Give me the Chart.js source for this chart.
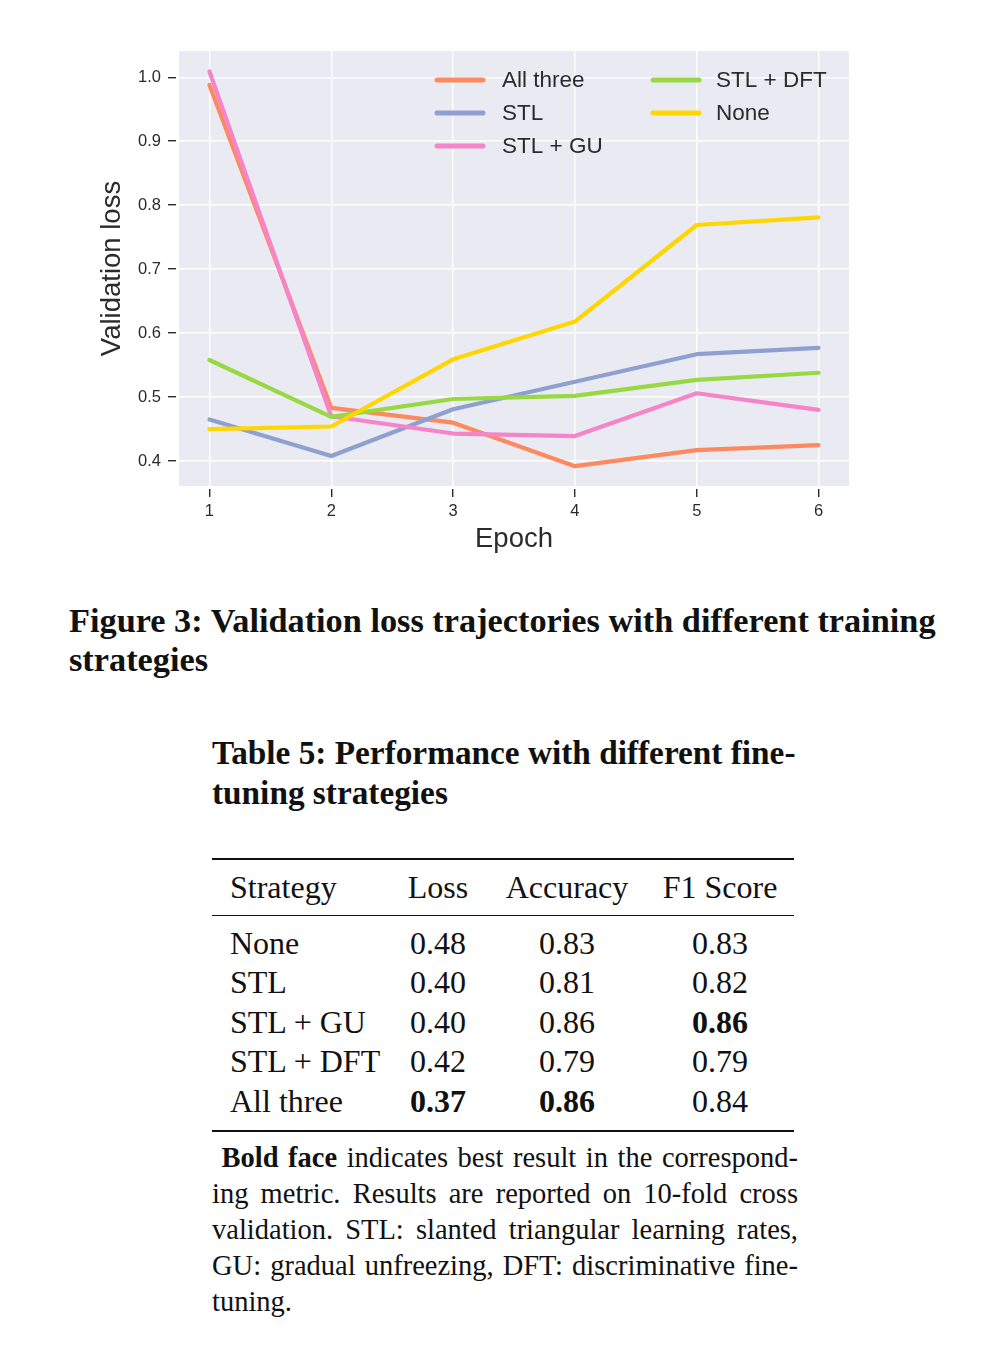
<!DOCTYPE html>
<html>
<head>
<meta charset="UTF-8">
<title>Validation loss trajectories</title>
<script src="https://cdn.jsdelivr.net/npm/chart.js"></script>
<style>
  * { margin: 0; padding: 0; box-sizing: border-box; }
  body { width: 1006px; height: 1360px; background: #fff; position: relative; overflow: hidden; }
  .chart-box { position: absolute; left: 0; top: 0; width: 1006px; height: 580px; }
  .serif { font-family: "Liberation Serif", "Times New Roman", serif; color: #111; position: absolute; }
  .caption { left: 69px; top: 601px; width: 900px; font-size: 34.3px; font-weight: bold; line-height: 39px; white-space: nowrap; }
  .ttitle { left: 212px; top: 733px; width: 620px; font-size: 33.3px; font-weight: bold; line-height: 40px; white-space: nowrap; }
  table { position: absolute; left: 212px; top: 858px; width: 582px; border-collapse: collapse; table-layout: fixed;
          font-family: "Liberation Serif", "Times New Roman", serif; font-size: 32px; color: #111;
          border-top: 2.5px solid #111; border-bottom: 2.5px solid #111; }
  th, td { padding: 0; font-weight: normal; text-align: center; line-height: 39.5px; white-space: nowrap; }
  th { height: 56px; border-bottom: 1.5px solid #111; }
  td.b { font-weight: bold; }
  th:first-child, td:first-child { text-align: left; padding-left: 18px; }
  th:last-child, td:last-child { padding-right: 10px; }
  tbody tr:first-child td { padding-top: 8px; }
  tbody tr:last-child td { padding-bottom: 9px; }
  .note { left: 212px; top: 1140px; width: 586px; font-size: 28.5px; line-height: 36px; }
  .note span { display: block; text-align: justify; text-align-last: justify; white-space: nowrap; }
  .note span.last { text-align-last: left; }
</style>
</head>
<body>
  <div class="chart-box"><canvas id="lossChart"></canvas></div>

  <div class="serif caption">Figure 3: Validation loss trajectories with different training<br>strategies</div>

  <div class="serif ttitle">Table 5: Performance with different fine-<br>tuning strategies</div>

  <table id="perf">
    <colgroup><col style="width:186px"><col style="width:80px"><col style="width:178px"><col style="width:138px"></colgroup>
    <thead><tr id="perfHead"></tr></thead>
    <tbody id="perfBody"></tbody>
  </table>

  <div class="serif note">
    <span>&nbsp;<b>Bold face</b> indicates best result in the correspond-</span>
    <span>ing metric. Results are reported on 10-fold cross</span>
    <span>validation. STL: slanted triangular learning rates,</span>
    <span>GU: gradual unfreezing, DFT: discriminative fine-</span>
    <span class="last">tuning.</span>
  </div>

<script>
// --- data ---
const epochs = [1, 2, 3, 4, 5, 6];
const yTicks = [0.4, 0.5, 0.6, 0.7, 0.8, 0.9, 1.0];

const allThree = [0.988, 0.483, 0.460, 0.392, 0.417, 0.425];
const stl      = [0.465, 0.408, 0.481, 0.524, 0.567, 0.577];
const stlGu    = [1.009, 0.470, 0.443, 0.439, 0.506, 0.480];
const stlDft   = [0.558, 0.469, 0.497, 0.502, 0.527, 0.538];
const none     = [0.450, 0.454, 0.559, 0.618, 0.769, 0.781];

const seriesNames  = ['All three', 'STL', 'STL + GU', 'STL + DFT', 'None'];
const seriesValues = [allThree, stl, stlGu, stlDft, none];
const seriesColors = ['#fc8a5e', '#8ea0d0', '#f584c8', '#98d943', '#ffd600'];

// table 5
const tableHeader = ['Strategy', 'Loss', 'Accuracy', 'F1 Score'];
const strategies  = ['None', 'STL', 'STL + GU', 'STL + DFT', 'All three'];
const lossCol     = ['0.48', '0.40', '0.40', '0.42', '0.37'];
const accCol      = ['0.83', '0.81', '0.86', '0.79', '0.86'];
const f1Col       = ['0.83', '0.82', '0.86', '0.79', '0.84'];
const boldCells   = [[4, 1], [4, 2], [2, 3]]; // [row, col]

// --- table ---
document.getElementById('perfHead').innerHTML = tableHeader.map(h => '<th>' + h + '</th>').join('');
document.getElementById('perfBody').innerHTML = strategies.map((s, r) => {
  const cells = [s, lossCol[r], accCol[r], f1Col[r]];
  return '<tr>' + cells.map((c, col) => {
    const bold = boldCells.some(b => b[0] === r && b[1] === col);
    return '<td' + (bold ? ' class="b"' : '') + '>' + c + '</td>';
  }).join('') + '</tr>';
}).join('');

// --- chart ---
const SANS = '"Liberation Sans", Arial, Helvetica, sans-serif';
const INK = '#2b2b2b';

// seaborn-ish grey panel behind the plot
const panelBg = {
  id: 'panelBg',
  beforeDraw(chart) {
    const { ctx, chartArea: a } = chart;
    ctx.save();
    ctx.fillStyle = '#eaeaf2';
    ctx.fillRect(a.left, a.top, a.right - a.left, a.bottom - a.top);
    ctx.restore();
  }
};

// two-column legend inside the plot, filled column by column
const insideLegend = {
  id: 'insideLegend',
  afterDatasetsDraw(chart) {
    const { ctx } = chart;
    const cols = [{ line: 437, text: 502 }, { line: 653, text: 716 }];
    const rows = [80, 113, 146];
    ctx.save();
    ctx.font = '22.5px ' + SANS;
    ctx.textBaseline = 'middle';
    ctx.lineCap = 'round';
    chart.data.datasets.forEach((ds, i) => {
      const c = cols[Math.floor(i / 3)];
      const y = rows[i % 3];
      ctx.strokeStyle = ds.borderColor;
      ctx.lineWidth = 5;
      ctx.beginPath();
      ctx.moveTo(c.line, y);
      ctx.lineTo(c.line + 46, y);
      ctx.stroke();
      ctx.fillStyle = INK;
      ctx.fillText(ds.label, c.text, y + 1);
    });
    ctx.restore();
  }
};

const datasets = seriesNames.map((name, i) => ({
  label: name,
  data: epochs.map((e, j) => ({ x: e, y: seriesValues[i][j] })),
  borderColor: seriesColors[i],
  backgroundColor: seriesColors[i],
  borderWidth: 4.2,
  pointRadius: 0,
  tension: 0,
  borderJoinStyle: 'round',
  borderCapStyle: 'round',
  order: seriesNames.length - i
}));

new Chart(document.getElementById('lossChart'), {
  type: 'line',
  data: { datasets },
  options: {
    responsive: true,
    maintainAspectRatio: false,
    animation: false,
    layout: { padding: { top: 51, right: 157, left: 0, bottom: 0 } },
    plugins: { legend: { display: false }, tooltip: { enabled: false } },
    scales: {
      x: {
        type: 'linear',
        min: 0.75,
        max: 6.25,
        afterFit: (s) => { s.height = 94; },
        afterBuildTicks: (s) => { s.ticks = epochs.map(v => ({ value: v })); },
        ticks: { color: INK, font: { family: SANS, size: 16.5 }, padding: 5, maxRotation: 0, callback: v => String(v) },
        grid: { color: '#ffffff', lineWidth: 1.4, tickColor: INK, tickWidth: 1.4, tickLength: 11, tickBorderDash: [0, 3, 8, 20] },
        border: { display: false },
        title: { display: true, text: 'Epoch', color: INK, font: { family: SANS, size: 27.5, lineHeight: 1.2 }, padding: { bottom: 24 } }
      },
      y: {
        min: 0.361,
        max: 1.041,
        afterFit: (s) => { s.width = 179; },
        afterBuildTicks: (s) => { s.ticks = yTicks.map(v => ({ value: v })); },
        ticks: { color: INK, font: { family: SANS, size: 16.5 }, padding: 7, callback: v => v.toFixed(1) },
        grid: { color: '#ffffff', lineWidth: 1.4, tickColor: INK, tickWidth: 1.4, tickLength: 11, tickBorderDash: [8, 20] },
        border: { display: false },
        title: { display: true, text: 'Validation loss', color: INK, font: { family: SANS, size: 27.5, lineHeight: 1.2 }, padding: { top: 96 } }
      }
    }
  },
  plugins: [panelBg, insideLegend]
});
</script>
</body>
</html>
